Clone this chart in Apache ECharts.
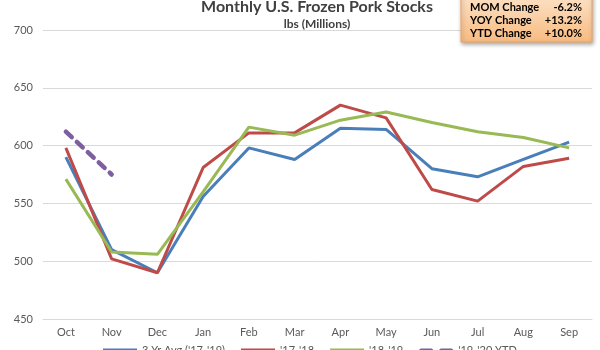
<!DOCTYPE html>
<html><head><meta charset="utf-8">
<script src="https://cdn.jsdelivr.net/npm/echarts@6/dist/echarts.min.js"></script>
<style>html,body{margin:0;padding:0;background:#fff}#c{width:600px;height:350px}</style>
</head><body><div id="c"></div>
<script>
const categories = ['Oct','Nov','Dec','Jan','Feb','Mar','Apr','May','Jun','Jul','Aug','Sep'];
const avg3yr = [590, 510, 490, 556, 598, 588, 615, 614, 580, 573, 588, 603];
const y1718 = [598, 502, 490, 581, 611, 611, 635, 624, 562, 552, 582, 589];
const y1819 = [571, 508, 506, 560, 616, 609, 622, 629, 620, 612, 607, 598];
const y1920 = [612, 575];
const seriesNames = ["3 Yr Avg ('17-'19)", "'17-'18", "'18-'19", "'19-'20 YTD"];
const boxLabels = ['MOM Change','YOY Change','YTD Change'];
const boxValues = ['-6.2%','+13.2%','+10.0%'];

const font = 'Lato, "Open Sans", sans-serif';
const chart = echarts.init(document.getElementById('c'));
const BX = 461, BY = -6;
const graphics = [{
  type:'rect', x:BX, y:BY, z:100, shape:{x:0,y:0,width:131,height:48},
  style:{fill:new echarts.graphic.LinearGradient(0,0,0,1,[{offset:0,color:'#fde3c8'},{offset:1,color:'#f8bb80'}]),
         stroke:'#f2a35e', lineWidth:1, shadowBlur:4, shadowColor:'rgba(0,0,0,0.35)', shadowOffsetX:1, shadowOffsetY:2}
}];
boxLabels.forEach((t,i)=>{
  graphics.push({type:'text', z:101, x:BX+9, y:BY+13+i*13, style:{text:t, fill:'#000', font:'bold 11px '+font, textVerticalAlign:'middle'}});
  graphics.push({type:'text', z:101, x:BX+121, y:BY+13+i*13, style:{text:boxValues[i], fill:'#000', font:'bold 11px '+font, textAlign:'right', textVerticalAlign:'middle'}});
});
const mk = (name, data, color, extra) => Object.assign({
  name, type:'line', data, symbol:'none', smooth:false,
  lineStyle:{color, width:3}, itemStyle:{color}, emphasis:{disabled:true}
}, extra||{});
const legendIcons = ['rect','rect','rect','path://M2,0h10a2,2 0 0 1 0,4h-10a2,2 0 0 1 0,-4z M22,0h10a2,2 0 0 1 0,4h-10a2,2 0 0 1 0,-4z'];
chart.setOption({
  animation:false,
  title:{text:'Monthly U.S. Frozen Pork Stocks', subtext:'lbs (Millions)', left:312, textAlign:'center', top:-6, itemGap:3,
    textStyle:{fontFamily:font, fontSize:16, fontWeight:'bold', color:'#404040'},
    subtextStyle:{fontFamily:font, fontSize:12, fontWeight:'bold', color:'#404040'}},
  grid:{left:43, right:8, top:30, bottom:31},
  legend:{top:345, left:103, itemWidth:34, itemHeight:4, itemGap:16, padding:0,
    textStyle:{fontFamily:font, fontSize:11, color:'#595959'},
    data:seriesNames.map((n,i)=>({name:n, icon:legendIcons[i]}))},
  xAxis:{type:'category', data:categories, boundaryGap:true,
    axisLine:{show:true, lineStyle:{color:'#d9d9d9'}}, axisTick:{show:false},
    axisLabel:{color:'#595959', fontFamily:font, fontSize:11, margin:8}},
  yAxis:{type:'value', min:450, max:700, interval:50,
    axisLine:{show:false}, axisTick:{show:false},
    axisLabel:{color:'#595959', fontFamily:font, fontSize:11, margin:10},
    splitLine:{lineStyle:{color:'#d9d9d9', width:1}}},
  series:[
    mk(seriesNames[0], avg3yr, '#4a7ebb'),
    mk(seriesNames[1], y1718, '#be4b48'),
    mk(seriesNames[2], y1819, '#98b954'),
    mk(seriesNames[3], y1920, '#7d5fa0', {lineStyle:{color:'#7d5fa0', width:4.5, type:[8,7], cap:'round'}})
  ],
  graphic:graphics
});
</script></body></html>
